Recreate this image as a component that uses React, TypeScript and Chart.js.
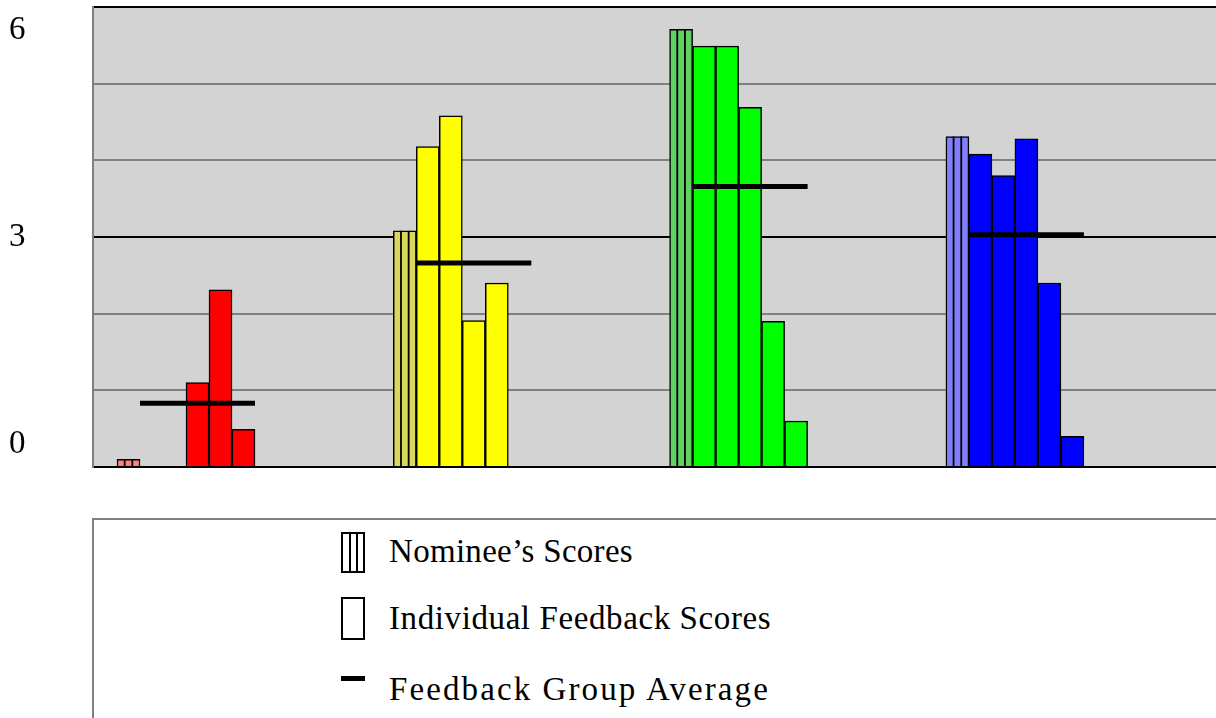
import React, { useEffect, useRef } from 'react';
import { Chart, registerables } from 'chart.js';

Chart.register(...registerables);

// ---- data ----
const categories = ['Group 1', 'Group 2', 'Group 3', 'Group 4'];
const nomineeScores = [0.1, 3.08, 5.71, 4.31];
const feedback1 = [0, 4.18, 5.49, 4.08];
const feedback2 = [0, 4.58, 5.49, 3.8];
const feedback3 = [1.1, 1.91, 4.69, 4.28];
const feedback4 = [2.31, 2.4, 1.9, 2.4];
const feedback5 = [0.49, 0, 0.6, 0.4];
const groupAverage = [0.83, 2.66, 3.66, 3.03];
const yLabelValues = [0, 3, 6];
const legendLabels = ['Nominee\u2019s Scores', 'Individual Feedback Scores', 'Feedback Group Average'];

// ---- styles ----
const feedbackColors = ['#ff0000', '#ffff00', '#00ff00', '#0000ff'];
const nomineeColors = ['#ff8080', '#d8d85c', '#62d062', '#8080ff'];
const SERIF = "'Liberation Serif', 'Times New Roman', serif";

const decorPlugin = {
  id: 'decor',
  beforeDraw(chart: any) {
    const { ctx, chartArea: a } = chart;
    ctx.save();
    ctx.fillStyle = '#d3d3d3';
    ctx.fillRect(a.left, a.top, a.right - a.left, a.bottom - a.top);
    ctx.restore();
  },
  afterDatasetsDraw(chart: any) {
    const ctx = chart.ctx;
    ctx.save();
    ctx.strokeStyle = '#000';
    // nominee stripes
    ctx.lineWidth = 1.8;
    chart.getDatasetMeta(0).data.forEach((bar: any) => {
      const { x, y, base, width } = bar.getProps(['x', 'y', 'base', 'width'], true);
      const left = x - width / 2;
      for (const k of [1, 2]) {
        const sx = left + (width * k) / 3;
        ctx.beginPath();
        ctx.moveTo(sx, y);
        ctx.lineTo(sx, base);
        ctx.stroke();
      }
    });
    // group average lines
    const first = chart.getDatasetMeta(1);
    const last = chart.getDatasetMeta(5);
    const yScale = chart.scales.y;
    ctx.lineWidth = 5;
    ctx.lineCap = 'butt';
    groupAverage.forEach((v, i) => {
      const b1: any = first.data[i];
      const b5: any = last.data[i];
      const l = b1.x - b1.width / 2;
      const r = b5.x + b5.width / 2;
      const py = yScale.getPixelForValue(v);
      ctx.beginPath();
      ctx.moveTo(l, py);
      ctx.lineTo(r, py);
      ctx.stroke();
    });
    ctx.restore();
  },
};

const toPoints = (arr: number[]) => arr.map((v, i) => ({ x: i, y: v }));

export default function App() {
  const ref = useRef<HTMLCanvasElement | null>(null);

  useEffect(() => {
    if (!ref.current) return;
    const feedbackSeries = [feedback1, feedback2, feedback3, feedback4, feedback5];
    const chart = new Chart(ref.current, {
      type: 'bar',
      data: {
        labels: categories,
        datasets: [
          {
            label: legendLabels[0],
            data: toPoints(nomineeScores),
            backgroundColor: nomineeColors,
            borderColor: '#000',
            borderWidth: 1.5,
            barThickness: 23,
          } as any,
          ...feedbackSeries.map((s, k) => ({
            label: `${legendLabels[1]} ${k + 1}`,
            data: toPoints(s),
            backgroundColor: feedbackColors,
            borderColor: '#000',
            borderWidth: 1.5,
            barThickness: 23,
          })),
        ],
      },
      options: {
        animation: false,
        responsive: false,
        maintainAspectRatio: false,
        layout: { padding: { left: 9, right: 0, top: 7, bottom: 13 } },
        plugins: { legend: { display: false }, tooltip: { enabled: false } },
        scales: {
          x: {
            type: 'linear',
            display: false,
            offset: false,
            grid: { offset: false },
            min: -0.3366,
            max: 3.7278,
            ticks: { includeBounds: true },
          },
          y: {
            min: 0,
            max: 6,
            stacked: false,
            ticks: {
              stepSize: 1,
              autoSkip: false,
              color: '#000',
              padding: 0,
              crossAlign: 'far',
              font: { family: SERIF, size: 33, lineHeight: 1.4 },
              callback: (v: any) => {
                if (!yLabelValues.includes(v)) return '';
                if (v === Math.max(...yLabelValues)) return ['', String(v)];
                if (v === Math.min(...yLabelValues)) return [String(v), ''];
                return String(v);
              },
            },
            grid: {
              color: (c: any) =>
                c.tick && yLabelValues.includes(c.tick.value) ? '#000000' : '#808080',
              lineWidth: 2,
              drawTicks: false,
            },
            border: { display: true, color: '#808080', width: 2 },
            afterFit: (s: any) => {
              s.width = 84;
              s.paddingTop = 0;
              s.paddingBottom = 0;
            },
          },
        },
      } as any,
      plugins: [decorPlugin],
    });
    return () => chart.destroy();
  }, []);

  const text: React.CSSProperties = {
    position: 'absolute',
    left: 389,
    fontFamily: SERIF,
    fontSize: 33,
    lineHeight: '33px',
    color: '#000',
    whiteSpace: 'nowrap',
  };

  return (
    <div
      style={{
        position: 'absolute',
        left: 0,
        top: 0,
        width: 1216,
        height: 718,
        overflow: 'hidden',
        background: '#fff',
      }}
    >
      <canvas ref={ref} width={1216} height={480} style={{ position: 'absolute', left: 0, top: 0 }} />
      <div
        style={{
          position: 'absolute',
          left: 92,
          top: 518,
          width: 1300,
          height: 300,
          borderLeft: '2px solid #808080',
          borderTop: '2px solid #808080',
        }}
      />
      {/* legend icons */}
      <div
        style={{
          position: 'absolute',
          left: 341,
          top: 532,
          width: 24,
          height: 41,
          border: '2px solid #000',
          boxSizing: 'border-box',
        }}
      >
        <div style={{ position: 'absolute', left: 5.5, top: 0, width: 2, height: '100%', background: '#000' }} />
        <div style={{ position: 'absolute', left: 12.5, top: 0, width: 2, height: '100%', background: '#000' }} />
      </div>
      <div
        style={{
          position: 'absolute',
          left: 341,
          top: 597,
          width: 24,
          height: 43,
          border: '2px solid #000',
          boxSizing: 'border-box',
        }}
      />
      <div style={{ position: 'absolute', left: 341, top: 676, width: 24, height: 5, background: '#000' }} />
      <div style={{ ...text, top: 535, letterSpacing: 0.3 }}>{legendLabels[0]}</div>
      <div style={{ ...text, top: 602, letterSpacing: 0.6 }}>{legendLabels[1]}</div>
      <div style={{ ...text, top: 673, letterSpacing: 2.1 }}>{legendLabels[2]}</div>
    </div>
  );
}
